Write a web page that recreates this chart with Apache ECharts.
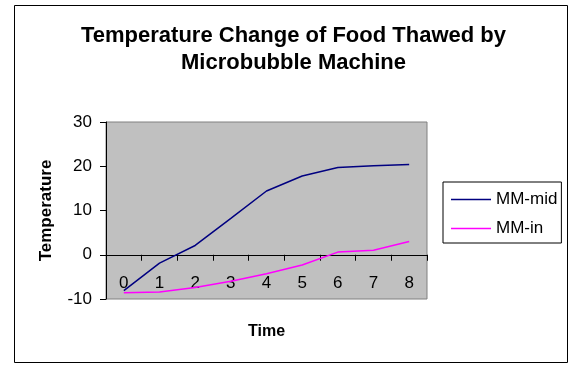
<!DOCTYPE html>
<html>
<head>
<meta charset="utf-8">
<script src="https://cdn.jsdelivr.net/npm/echarts@6/dist/echarts.min.js"></script>
<style>
html,body{margin:0;padding:0;background:#fff;}
#c{width:571px;height:365px;}
</style>
</head>
<body>
<div id="c"></div>
<script>
var categories = ['0','1','2','3','4','5','6','7','8'];
var mmMid = [-8.1, -1.9, 2.1, 8.2, 14.4, 17.8, 19.7, 20.1, 20.4];
var mmIn = [-8.6, -8.4, -7.4, -6.0, -4.3, -2.3, 0.6, 1.0, 3.0];
var yTicks = {min: -10, max: 30, interval: 10};

var chart = echarts.init(document.getElementById('c'));
var F = 'Arial, "Liberation Sans", Helvetica, sans-serif';
chart.setOption({
  animation: false,
  backgroundColor: '#fff',
  title: {
    text: 'Temperature Change of Food Thawed by\nMicrobubble Machine',
    left: 288.5, textAlign: 'center', top: 17,
    textStyle: {fontFamily: F, fontSize: 22, fontWeight: 'bold', color: '#000', lineHeight: 27}
  },
  graphic: [{
    type: 'rect', silent: true,
    shape: {x: 14.5, y: 5.5, width: 553, height: 357},
    style: {fill: 'none', stroke: '#000', lineWidth: 1}
  }],
  legend: {
    orient: 'vertical', left: 443, top: 182,
    data: ['MM-mid', 'MM-in'],
    icon: 'rect',
    itemWidth: 40, itemHeight: 1.5, itemGap: 12,
    borderColor: '#000', borderWidth: 1,
    padding: [9, 4, 6, 8],
    textStyle: {fontFamily: F, fontSize: 17, color: '#000', lineHeight: 15}
  },
  grid: {left: 106, top: 122, width: 321, height: 177, outerBoundsMode: 'none', containLabel: false,
    show: true, backgroundColor: '#C0C0C0', borderColor: '#808080', borderWidth: 1},
  xAxis: {
    type: 'category', data: categories, boundaryGap: true,
    name: 'Time', nameLocation: 'middle', nameGap: 25,
    nameTextStyle: {fontFamily: F, fontSize: 16, fontWeight: 'bold', color: '#000'},
    axisLine: {onZero: true, lineStyle: {color: '#000', width: 1}},
    axisTick: {show: true, alignWithLabel: false, length: 6, lineStyle: {color: '#000'}},
    axisLabel: {margin: -24, fontFamily: F, fontSize: 17, color: '#000'},
    splitLine: {show: false}
  },
  yAxis: {
    type: 'value', min: yTicks.min, max: yTicks.max, interval: yTicks.interval,
    name: 'Temperature', nameLocation: 'middle', nameGap: 51, nameRotate: 90,
    nameTextStyle: {fontFamily: F, fontSize: 17, fontWeight: 'bold', color: '#000'},
    axisLine: {show: true, lineStyle: {color: '#000', width: 1}},
    axisTick: {show: true, length: 6, lineStyle: {color: '#000'}},
    axisLabel: {margin: 14, fontFamily: F, fontSize: 17, color: '#000'},
    splitLine: {show: false}
  },
  series: [
    {name: 'MM-mid', type: 'line', data: mmMid, symbol: 'none',
     lineStyle: {color: '#000080', width: 1.5}, itemStyle: {color: '#000080'}},
    {name: 'MM-in', type: 'line', data: mmIn, symbol: 'none',
     lineStyle: {color: '#FF00FF', width: 1.5}, itemStyle: {color: '#FF00FF'}}
  ]
});
</script>
</body>
</html>
